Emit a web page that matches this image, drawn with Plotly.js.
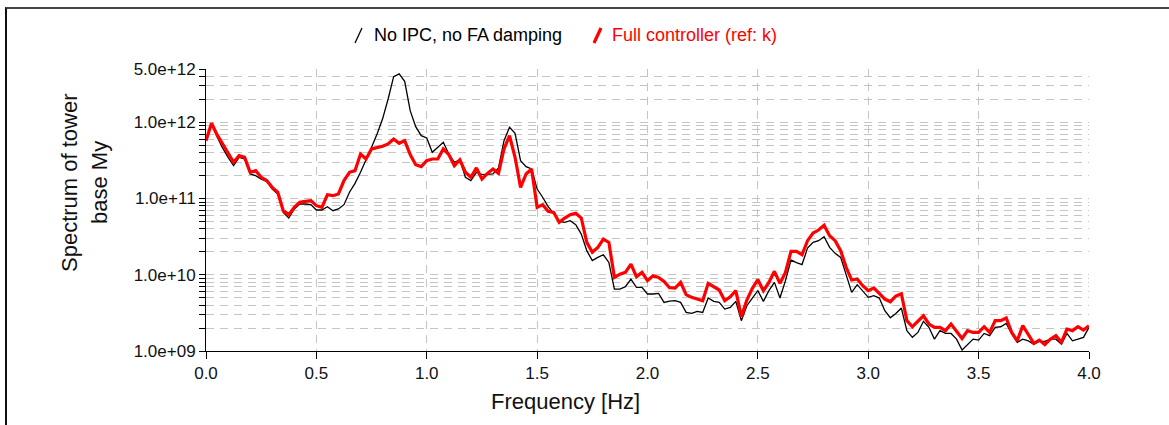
<!DOCTYPE html>
<html>
<head>
<meta charset="utf-8">
<script src="https://cdn.plot.ly/plotly-3.0.1.min.js"></script>
<style>
  html, body { margin: 0; padding: 0; background: #fff; }
  #wrap { position: relative; width: 1169px; height: 425px; overflow: hidden; }
  #plot { position: absolute; left: 0; top: 0; width: 1169px; height: 425px; }
  #frame { position: absolute; left: 5px; top: 7px; width: 1164px; height: 418px;
           border-top: 2px solid #444; border-left: 2px solid #111; pointer-events: none; }
</style>
</head>
<body>
<div id="wrap">
  <div id="plot"></div>
  <div id="frame"></div>
</div>
<script>
// Frequency grid step [Hz] (spectral resolution)
const freqStep = 0.025;

// Series: No IPC, no FA damping (black)
const noIpc = [
  6.04e11, 9.7e11, 6.48e11, 4.61e11, 3.47e11, 2.70e11, 3.47e11, 3.30e11, 2.10e11, 2.00e11,
  1.80e11, 1.68e11, 1.33e11, 1.15e11, 6.59e10, 5.55e10, 7.29e10, 8.48e10, 8.48e10, 8.31e10,
  7.07e10, 7.07e10, 7.82e10, 6.93e10, 7.29e10, 8.31e10, 1.21e11, 1.58e11, 2.21e11, 3.14e11,
  4.70e11, 7.03e11, 1.11e12, 2.02e12, 3.97e12, 4.31e12, 3.45e12, 1.42e12, 8.77e11, 6.68e11,
  6.23e11, 4.04e11, 4.70e11, 5.46e11, 3.84e11, 2.99e11, 3.21e11, 1.90e11, 1.72e11, 2.21e11,
  2.06e11, 2.06e11, 2.10e11, 2.52e11, 5.74e11, 8.60e11, 7.17e11, 3.14e11, 2.62e11, 2.44e11,
  1.33e11, 1.04e11, 7.82e10, 6.39e10, 5.02e10, 4.87e10, 5.12e10, 4.54e10, 3.42e10, 2.07e10,
  1.53e10, 1.69e10, 1.83e10, 1.45e10, 6.50e9, 6.50e9, 6.97e9, 8.79e9, 6.83e9, 6.83e9,
  5.59e9, 5.59e9, 5.70e9, 4.34e9, 4.52e9, 4.57e9, 4.34e9, 3.21e9, 3.11e9, 3.31e9,
  3.21e9, 4.95e9, 4.48e9, 4.34e9, 3.55e9, 3.73e9, 4.48e9, 2.50e9, 3.93e9, 4.95e9,
  6.18e9, 4.48e9, 6.18e9, 7.95e9, 4.95e9, 8.36e9, 1.56e10, 1.44e10, 1.36e10, 2.24e10,
  2.66e10, 2.80e10, 3.16e10, 2.29e10, 1.91e10, 1.69e10, 1.02e10, 5.87e9, 7.41e9, 6.06e9,
  5.05e9, 5.31e9, 4.95e9, 3.37e9, 2.73e9, 3.11e9, 3.66e9, 1.85e9, 1.51e9, 1.75e9,
  2.45e9, 2.04e9, 1.43e9, 1.85e9, 1.70e9, 1.70e9, 1.43e9, 1.03e9, 1.23e9, 1.43e9,
  1.39e9, 1.70e9, 1.59e9, 2.04e9, 2.08e9, 2.30e9, 1.67e9, 1.30e9, 1.43e9, 1.36e9,
  1.23e9, 1.34e9, 1.34e9, 1.43e9, 1.43e9, 1.23e9, 1.70e9, 1.36e9, 1.43e9, 1.51e9,
  2.04e9
];

// Series: Full controller (ref: k) (red)
const fullCtrl = [
  5.74e11, 9.7e11, 6.89e11, 5.2e11, 3.84e11, 2.99e11, 3.65e11, 3.47e11, 2.21e11, 2.32e11,
  1.90e11, 1.72e11, 1.40e11, 1.21e11, 6.93e10, 6.14e10, 7.66e10, 8.92e10, 9.19e10, 9.38e10,
  8.06e10, 7.66e10, 1.12e11, 1.09e11, 1.15e11, 1.72e11, 2.21e11, 2.32e11, 3.84e11, 3.30e11,
  4.47e11, 4.61e11, 4.84e11, 5.2e11, 6.04e11, 5.3e11, 5.74e11, 3.77e11, 2.78e11, 2.62e11,
  3.14e11, 3.30e11, 3.30e11, 4.47e11, 3.77e11, 2.70e11, 3.21e11, 2.21e11, 1.90e11, 2.52e11,
  1.80e11, 2.14e11, 2.44e11, 2.14e11, 4.47e11, 6.68e11, 3.47e11, 1.40e11, 2.10e11, 2.44e11,
  7.66e10, 8.31e10, 6.79e10, 6.59e10, 4.87e10, 5.55e10, 6.14e10, 6.39e10, 5.55e10, 2.66e10,
  1.97e10, 2.29e10, 2.94e10, 2.66e10, 9.25e9, 1.02e10, 1.075e10, 1.38e10, 9.44e9, 1.075e10,
  8.36e9, 9.72e9, 9.25e9, 8.19e9, 6.77e9, 6.70e9, 7.95e9, 5.48e9, 5.05e9, 4.80e9,
  4.57e9, 7.71e9, 6.97e9, 6.31e9, 4.57e9, 5.15e9, 6.18e9, 2.82e9, 4.66e9, 6.63e9,
  8.61e9, 6.18e9, 7.95e9, 1.11e10, 7.71e9, 1.075e10, 2.03e10, 2.03e10, 1.83e10, 2.80e10,
  3.53e10, 3.86e10, 4.45e10, 3.26e10, 2.80e10, 2.07e10, 1.25e10, 8.53e9, 8.79e9, 7.19e9,
  6.18e9, 6.70e9, 5.70e9, 4.80e9, 4.43e9, 5.26e9, 5.64e9, 2.50e9, 2.08e9, 2.45e9,
  2.90e9, 2.26e9, 2.04e9, 2.04e9, 1.85e9, 2.26e9, 1.85e9, 1.46e9, 1.85e9, 1.75e9,
  1.75e9, 2.08e9, 1.75e9, 2.50e9, 2.50e9, 2.71e9, 1.75e9, 1.36e9, 2.15e9, 1.67e9,
  1.26e9, 1.39e9, 1.21e9, 1.43e9, 1.59e9, 1.30e9, 1.94e9, 1.85e9, 2.08e9, 1.88e9,
  2.15e9
];

const seriesNames = ["No IPC, no FA damping", "Full controller (ref: k)"];
const seriesColors = ["#000000", "#ff0000"];

// Axis ticks
const xTickVals = [0, 0.5, 1.0, 1.5, 2.0, 2.5, 3.0, 3.5, 4.0];
const xTickText = ["0.0", "0.5", "1.0", "1.5", "2.0", "2.5", "3.0", "3.5", "4.0"];
const yMajorVals = [1e9, 1e10, 1e11, 1e12, 5e12];
const yMajorText = ["1.0e+09", "1.0e+10", "1.0e+11", "1.0e+12", "5.0e+12"];
const yMinorVals = [
  2e9, 3e9, 4e9, 5e9, 6e9, 7e9, 8e9, 9e9,
  2e10, 3e10, 4e10, 5e10, 6e10, 7e10, 8e10, 9e10,
  2e11, 3e11, 4e11, 5e11, 6e11, 7e11, 8e11, 9e11,
  2e12, 3e12, 4e12
];
const xTitle = "Frequency [Hz]";
const yTitleLines = ["Spectrum of tower", "base My"];

const freq = fullCtrl.map((_, i) => +(i * freqStep).toFixed(3));

const yAllVals = yMajorVals.concat(yMinorVals);
const yAllText = yMajorText.concat(yMinorVals.map(() => ""));
const yRange = [Math.log10(1e9), Math.log10(5e12)];

const FONT = "'Liberation Sans', Arial, sans-serif";
const GRID = "#c4c4c4";

const traces = [
  { x: freq, y: noIpc, type: "scatter", mode: "lines", name: seriesNames[0],
    line: { color: seriesColors[0], width: 1.3 }, showlegend: false, hoverinfo: "x+y" },
  { x: freq, y: fullCtrl, type: "scatter", mode: "lines", name: seriesNames[1],
    line: { color: seriesColors[1], width: 3.2 }, showlegend: false, hoverinfo: "x+y" }
];

// plot area geometry helpers (paper coordinates)
const L = 206, R = 1089, T = 69, B = 351;
const px2x = p => (p - L) / (R - L);
const py2y = p => (B - p) / (B - T);

const layout = {
  width: 1169, height: 425,
  margin: { l: L, r: 1169 - R, t: T, b: 425 - B },
  paper_bgcolor: "#ffffff", plot_bgcolor: "#ffffff",
  font: { family: FONT, color: "#000", size: 16 },
  showlegend: false,
  xaxis: {
    range: [0, 4], tickvals: xTickVals, ticktext: xTickText,
    ticks: "outside", ticklen: 7, tickcolor: "#000", tickwidth: 1,
    showline: true, linecolor: "#000", linewidth: 1, mirror: false,
    showgrid: true, gridcolor: GRID, griddash: "8px,6px", gridwidth: 1,
    zeroline: false, tickfont: { family: FONT, size: 17, color: "#111" },
    fixedrange: true
  },
  xaxis2: {
    range: [0, 4], tickvals: xTickVals, overlaying: "x", anchor: "y", side: "bottom",
    ticks: "inside", ticklen: 6, tickcolor: "#000", showticklabels: false,
    showgrid: false, showline: false, zeroline: false, fixedrange: true
  },
  yaxis: {
    type: "log", range: yRange, tickvals: yAllVals, ticktext: yAllText,
    ticks: "outside", ticklen: 6, tickcolor: "#000", tickwidth: 1,
    showline: true, linecolor: "#000", linewidth: 1,
    showgrid: true, gridcolor: GRID, griddash: "8px,6px", gridwidth: 1,
    zeroline: false, tickfont: { family: FONT, size: 17, color: "#111" },
    fixedrange: true
  },
  yaxis2: {
    type: "log", range: yRange, tickvals: yAllVals, overlaying: "y", anchor: "x", side: "left",
    ticks: "inside", ticklen: 3, tickcolor: "#000", showticklabels: false,
    showgrid: false, showline: false, zeroline: false, fixedrange: true
  },
  annotations: [
    { text: xTitle, xref: "paper", yref: "paper", x: px2x(565), y: py2y(401),
      xanchor: "center", yanchor: "middle", showarrow: false,
      font: { family: FONT, size: 22, color: "#111" } },
    { text: yTitleLines[0], xref: "paper", yref: "paper", x: px2x(69), y: py2y(183),
      xanchor: "center", yanchor: "middle", showarrow: false, textangle: -90,
      font: { family: FONT, size: 22, color: "#111" } },
    { text: yTitleLines[1], xref: "paper", yref: "paper", x: px2x(99), y: py2y(183),
      xanchor: "center", yanchor: "middle", showarrow: false, textangle: -90,
      font: { family: FONT, size: 22, color: "#111" } },
    { text: seriesNames[0], xref: "paper", yref: "paper", x: px2x(372), y: py2y(35),
      xanchor: "left", yanchor: "middle", showarrow: false,
      font: { family: FONT, size: 18, color: seriesColors[0] } },
    { text: seriesNames[1], xref: "paper", yref: "paper", x: px2x(610), y: py2y(35),
      xanchor: "left", yanchor: "middle", showarrow: false,
      font: { family: FONT, size: 18, color: seriesColors[1] } }
  ],
  shapes: [
    { type: "line", xref: "paper", yref: "paper",
      x0: px2x(355), y0: py2y(43), x1: px2x(362), y1: py2y(28),
      line: { color: seriesColors[0], width: 1.3 } },
    { type: "line", xref: "paper", yref: "paper",
      x0: px2x(594), y0: py2y(43), x1: px2x(601), y1: py2y(28),
      line: { color: seriesColors[1], width: 3.2 } }
  ]
};

Plotly.newPlot("plot", traces, layout, { staticPlot: true, displayModeBar: false });
</script>
</body>
</html>
